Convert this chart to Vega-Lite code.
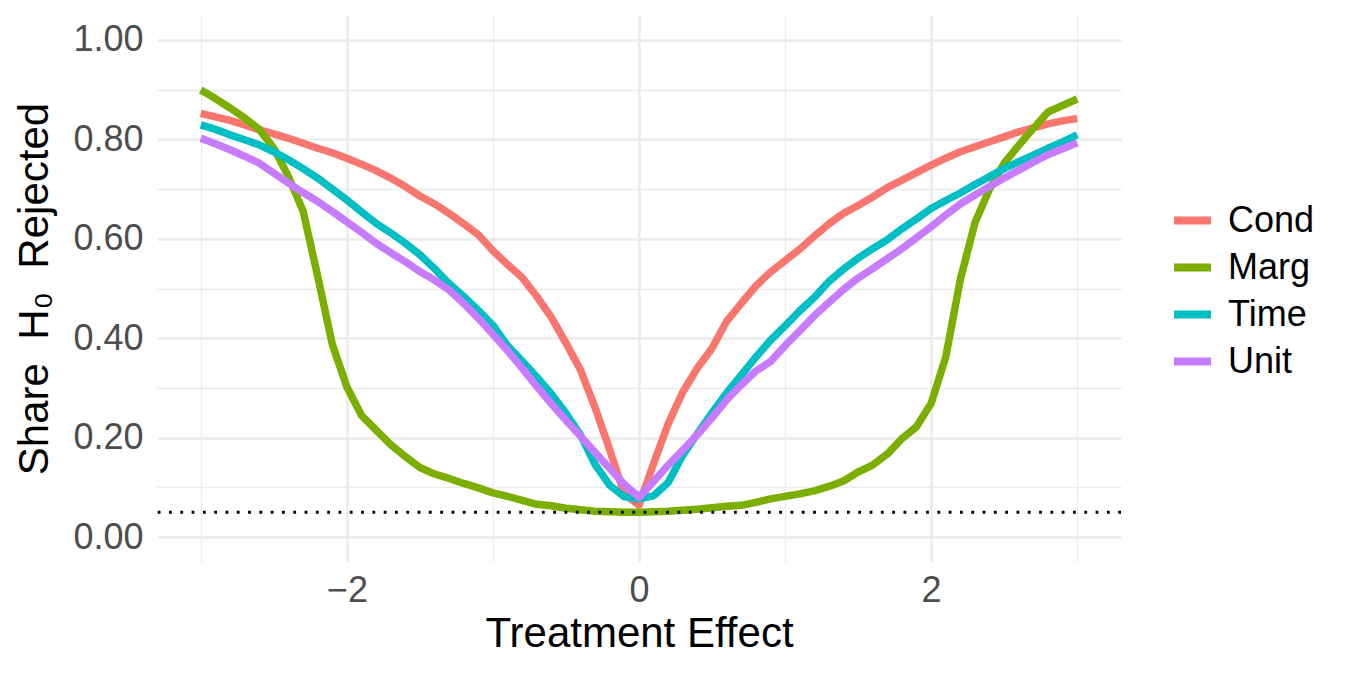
{
  "$schema": "https://vega.github.io/schema/vega-lite/v6.json",
  "width": 964,
  "height": 547,
  "autosize": {"type": "none"},
  "padding": {"left": 157, "top": 15, "right": 224, "bottom": 111},
  "background": "white",
  "config": {"view": {"stroke": null}, "font": "Liberation Sans"},
  "datasets": {
    "curves": [
      {"effect": -3.0, "share": 0.852, "method": "Cond"},
      {"effect": -2.9, "share": 0.845, "method": "Cond"},
      {"effect": -2.8, "share": 0.838, "method": "Cond"},
      {"effect": -2.7, "share": 0.829, "method": "Cond"},
      {"effect": -2.6, "share": 0.819, "method": "Cond"},
      {"effect": -2.5, "share": 0.811, "method": "Cond"},
      {"effect": -2.4, "share": 0.802, "method": "Cond"},
      {"effect": -2.3, "share": 0.792, "method": "Cond"},
      {"effect": -2.2, "share": 0.782, "method": "Cond"},
      {"effect": -2.1, "share": 0.773, "method": "Cond"},
      {"effect": -2.0, "share": 0.762, "method": "Cond"},
      {"effect": -1.9, "share": 0.750, "method": "Cond"},
      {"effect": -1.8, "share": 0.737, "method": "Cond"},
      {"effect": -1.7, "share": 0.722, "method": "Cond"},
      {"effect": -1.6, "share": 0.705, "method": "Cond"},
      {"effect": -1.5, "share": 0.686, "method": "Cond"},
      {"effect": -1.4, "share": 0.670, "method": "Cond"},
      {"effect": -1.3, "share": 0.651, "method": "Cond"},
      {"effect": -1.2, "share": 0.630, "method": "Cond"},
      {"effect": -1.1, "share": 0.608, "method": "Cond"},
      {"effect": -1.0, "share": 0.576, "method": "Cond"},
      {"effect": -0.9, "share": 0.548, "method": "Cond"},
      {"effect": -0.8, "share": 0.522, "method": "Cond"},
      {"effect": -0.7, "share": 0.484, "method": "Cond"},
      {"effect": -0.6, "share": 0.442, "method": "Cond"},
      {"effect": -0.5, "share": 0.390, "method": "Cond"},
      {"effect": -0.4, "share": 0.336, "method": "Cond"},
      {"effect": -0.3, "share": 0.260, "method": "Cond"},
      {"effect": -0.2, "share": 0.175, "method": "Cond"},
      {"effect": -0.1, "share": 0.086, "method": "Cond"},
      {"effect": 0.0, "share": 0.064, "method": "Cond"},
      {"effect": 0.1, "share": 0.148, "method": "Cond"},
      {"effect": 0.2, "share": 0.228, "method": "Cond"},
      {"effect": 0.3, "share": 0.292, "method": "Cond"},
      {"effect": 0.4, "share": 0.340, "method": "Cond"},
      {"effect": 0.5, "share": 0.380, "method": "Cond"},
      {"effect": 0.6, "share": 0.434, "method": "Cond"},
      {"effect": 0.7, "share": 0.470, "method": "Cond"},
      {"effect": 0.8, "share": 0.505, "method": "Cond"},
      {"effect": 0.9, "share": 0.533, "method": "Cond"},
      {"effect": 1.0, "share": 0.556, "method": "Cond"},
      {"effect": 1.1, "share": 0.579, "method": "Cond"},
      {"effect": 1.2, "share": 0.605, "method": "Cond"},
      {"effect": 1.3, "share": 0.630, "method": "Cond"},
      {"effect": 1.4, "share": 0.651, "method": "Cond"},
      {"effect": 1.5, "share": 0.667, "method": "Cond"},
      {"effect": 1.6, "share": 0.684, "method": "Cond"},
      {"effect": 1.7, "share": 0.703, "method": "Cond"},
      {"effect": 1.8, "share": 0.718, "method": "Cond"},
      {"effect": 1.9, "share": 0.733, "method": "Cond"},
      {"effect": 2.0, "share": 0.748, "method": "Cond"},
      {"effect": 2.1, "share": 0.762, "method": "Cond"},
      {"effect": 2.2, "share": 0.775, "method": "Cond"},
      {"effect": 2.3, "share": 0.785, "method": "Cond"},
      {"effect": 2.4, "share": 0.795, "method": "Cond"},
      {"effect": 2.5, "share": 0.805, "method": "Cond"},
      {"effect": 2.6, "share": 0.815, "method": "Cond"},
      {"effect": 2.7, "share": 0.823, "method": "Cond"},
      {"effect": 2.8, "share": 0.831, "method": "Cond"},
      {"effect": 2.9, "share": 0.837, "method": "Cond"},
      {"effect": 3.0, "share": 0.842, "method": "Cond"},
      {"effect": -3.0, "share": 0.899, "method": "Marg"},
      {"effect": -2.9, "share": 0.882, "method": "Marg"},
      {"effect": -2.8, "share": 0.863, "method": "Marg"},
      {"effect": -2.7, "share": 0.843, "method": "Marg"},
      {"effect": -2.6, "share": 0.820, "method": "Marg"},
      {"effect": -2.5, "share": 0.782, "method": "Marg"},
      {"effect": -2.4, "share": 0.725, "method": "Marg"},
      {"effect": -2.3, "share": 0.656, "method": "Marg"},
      {"effect": -2.2, "share": 0.525, "method": "Marg"},
      {"effect": -2.1, "share": 0.388, "method": "Marg"},
      {"effect": -2.0, "share": 0.302, "method": "Marg"},
      {"effect": -1.9, "share": 0.245, "method": "Marg"},
      {"effect": -1.8, "share": 0.215, "method": "Marg"},
      {"effect": -1.7, "share": 0.186, "method": "Marg"},
      {"effect": -1.6, "share": 0.162, "method": "Marg"},
      {"effect": -1.5, "share": 0.140, "method": "Marg"},
      {"effect": -1.4, "share": 0.127, "method": "Marg"},
      {"effect": -1.3, "share": 0.118, "method": "Marg"},
      {"effect": -1.2, "share": 0.108, "method": "Marg"},
      {"effect": -1.1, "share": 0.099, "method": "Marg"},
      {"effect": -1.0, "share": 0.089, "method": "Marg"},
      {"effect": -0.9, "share": 0.082, "method": "Marg"},
      {"effect": -0.8, "share": 0.074, "method": "Marg"},
      {"effect": -0.7, "share": 0.066, "method": "Marg"},
      {"effect": -0.6, "share": 0.063, "method": "Marg"},
      {"effect": -0.5, "share": 0.058, "method": "Marg"},
      {"effect": -0.4, "share": 0.055, "method": "Marg"},
      {"effect": -0.3, "share": 0.052, "method": "Marg"},
      {"effect": -0.2, "share": 0.051, "method": "Marg"},
      {"effect": -0.1, "share": 0.050, "method": "Marg"},
      {"effect": 0.0, "share": 0.050, "method": "Marg"},
      {"effect": 0.1, "share": 0.051, "method": "Marg"},
      {"effect": 0.2, "share": 0.052, "method": "Marg"},
      {"effect": 0.3, "share": 0.054, "method": "Marg"},
      {"effect": 0.4, "share": 0.056, "method": "Marg"},
      {"effect": 0.5, "share": 0.059, "method": "Marg"},
      {"effect": 0.6, "share": 0.062, "method": "Marg"},
      {"effect": 0.7, "share": 0.064, "method": "Marg"},
      {"effect": 0.8, "share": 0.070, "method": "Marg"},
      {"effect": 0.9, "share": 0.077, "method": "Marg"},
      {"effect": 1.0, "share": 0.082, "method": "Marg"},
      {"effect": 1.1, "share": 0.087, "method": "Marg"},
      {"effect": 1.2, "share": 0.093, "method": "Marg"},
      {"effect": 1.3, "share": 0.102, "method": "Marg"},
      {"effect": 1.4, "share": 0.113, "method": "Marg"},
      {"effect": 1.5, "share": 0.131, "method": "Marg"},
      {"effect": 1.6, "share": 0.145, "method": "Marg"},
      {"effect": 1.7, "share": 0.167, "method": "Marg"},
      {"effect": 1.8, "share": 0.198, "method": "Marg"},
      {"effect": 1.9, "share": 0.222, "method": "Marg"},
      {"effect": 2.0, "share": 0.269, "method": "Marg"},
      {"effect": 2.1, "share": 0.362, "method": "Marg"},
      {"effect": 2.2, "share": 0.518, "method": "Marg"},
      {"effect": 2.3, "share": 0.632, "method": "Marg"},
      {"effect": 2.4, "share": 0.700, "method": "Marg"},
      {"effect": 2.5, "share": 0.752, "method": "Marg"},
      {"effect": 2.6, "share": 0.788, "method": "Marg"},
      {"effect": 2.7, "share": 0.822, "method": "Marg"},
      {"effect": 2.8, "share": 0.855, "method": "Marg"},
      {"effect": 2.9, "share": 0.868, "method": "Marg"},
      {"effect": 3.0, "share": 0.881, "method": "Marg"},
      {"effect": -3.0, "share": 0.829, "method": "Time"},
      {"effect": -2.9, "share": 0.820, "method": "Time"},
      {"effect": -2.8, "share": 0.809, "method": "Time"},
      {"effect": -2.7, "share": 0.799, "method": "Time"},
      {"effect": -2.6, "share": 0.789, "method": "Time"},
      {"effect": -2.5, "share": 0.775, "method": "Time"},
      {"effect": -2.4, "share": 0.759, "method": "Time"},
      {"effect": -2.3, "share": 0.741, "method": "Time"},
      {"effect": -2.2, "share": 0.722, "method": "Time"},
      {"effect": -2.1, "share": 0.700, "method": "Time"},
      {"effect": -2.0, "share": 0.678, "method": "Time"},
      {"effect": -1.9, "share": 0.654, "method": "Time"},
      {"effect": -1.8, "share": 0.631, "method": "Time"},
      {"effect": -1.7, "share": 0.612, "method": "Time"},
      {"effect": -1.6, "share": 0.591, "method": "Time"},
      {"effect": -1.5, "share": 0.568, "method": "Time"},
      {"effect": -1.4, "share": 0.540, "method": "Time"},
      {"effect": -1.3, "share": 0.510, "method": "Time"},
      {"effect": -1.2, "share": 0.484, "method": "Time"},
      {"effect": -1.1, "share": 0.456, "method": "Time"},
      {"effect": -1.0, "share": 0.426, "method": "Time"},
      {"effect": -0.9, "share": 0.385, "method": "Time"},
      {"effect": -0.8, "share": 0.354, "method": "Time"},
      {"effect": -0.7, "share": 0.322, "method": "Time"},
      {"effect": -0.6, "share": 0.288, "method": "Time"},
      {"effect": -0.5, "share": 0.249, "method": "Time"},
      {"effect": -0.4, "share": 0.205, "method": "Time"},
      {"effect": -0.3, "share": 0.146, "method": "Time"},
      {"effect": -0.2, "share": 0.104, "method": "Time"},
      {"effect": -0.1, "share": 0.081, "method": "Time"},
      {"effect": 0.0, "share": 0.077, "method": "Time"},
      {"effect": 0.1, "share": 0.083, "method": "Time"},
      {"effect": 0.2, "share": 0.110, "method": "Time"},
      {"effect": 0.3, "share": 0.165, "method": "Time"},
      {"effect": 0.4, "share": 0.208, "method": "Time"},
      {"effect": 0.5, "share": 0.250, "method": "Time"},
      {"effect": 0.6, "share": 0.290, "method": "Time"},
      {"effect": 0.7, "share": 0.326, "method": "Time"},
      {"effect": 0.8, "share": 0.362, "method": "Time"},
      {"effect": 0.9, "share": 0.396, "method": "Time"},
      {"effect": 1.0, "share": 0.425, "method": "Time"},
      {"effect": 1.1, "share": 0.455, "method": "Time"},
      {"effect": 1.2, "share": 0.482, "method": "Time"},
      {"effect": 1.3, "share": 0.514, "method": "Time"},
      {"effect": 1.4, "share": 0.539, "method": "Time"},
      {"effect": 1.5, "share": 0.561, "method": "Time"},
      {"effect": 1.6, "share": 0.580, "method": "Time"},
      {"effect": 1.7, "share": 0.598, "method": "Time"},
      {"effect": 1.8, "share": 0.620, "method": "Time"},
      {"effect": 1.9, "share": 0.640, "method": "Time"},
      {"effect": 2.0, "share": 0.661, "method": "Time"},
      {"effect": 2.1, "share": 0.677, "method": "Time"},
      {"effect": 2.2, "share": 0.692, "method": "Time"},
      {"effect": 2.3, "share": 0.709, "method": "Time"},
      {"effect": 2.4, "share": 0.725, "method": "Time"},
      {"effect": 2.5, "share": 0.741, "method": "Time"},
      {"effect": 2.6, "share": 0.755, "method": "Time"},
      {"effect": 2.7, "share": 0.768, "method": "Time"},
      {"effect": 2.8, "share": 0.782, "method": "Time"},
      {"effect": 2.9, "share": 0.795, "method": "Time"},
      {"effect": 3.0, "share": 0.809, "method": "Time"},
      {"effect": -3.0, "share": 0.802, "method": "Unit"},
      {"effect": -2.9, "share": 0.791, "method": "Unit"},
      {"effect": -2.8, "share": 0.779, "method": "Unit"},
      {"effect": -2.7, "share": 0.766, "method": "Unit"},
      {"effect": -2.6, "share": 0.752, "method": "Unit"},
      {"effect": -2.5, "share": 0.732, "method": "Unit"},
      {"effect": -2.4, "share": 0.712, "method": "Unit"},
      {"effect": -2.3, "share": 0.693, "method": "Unit"},
      {"effect": -2.2, "share": 0.675, "method": "Unit"},
      {"effect": -2.1, "share": 0.655, "method": "Unit"},
      {"effect": -2.0, "share": 0.634, "method": "Unit"},
      {"effect": -1.9, "share": 0.613, "method": "Unit"},
      {"effect": -1.8, "share": 0.591, "method": "Unit"},
      {"effect": -1.7, "share": 0.572, "method": "Unit"},
      {"effect": -1.6, "share": 0.554, "method": "Unit"},
      {"effect": -1.5, "share": 0.534, "method": "Unit"},
      {"effect": -1.4, "share": 0.517, "method": "Unit"},
      {"effect": -1.3, "share": 0.497, "method": "Unit"},
      {"effect": -1.2, "share": 0.470, "method": "Unit"},
      {"effect": -1.1, "share": 0.440, "method": "Unit"},
      {"effect": -1.0, "share": 0.408, "method": "Unit"},
      {"effect": -0.9, "share": 0.375, "method": "Unit"},
      {"effect": -0.8, "share": 0.340, "method": "Unit"},
      {"effect": -0.7, "share": 0.303, "method": "Unit"},
      {"effect": -0.6, "share": 0.268, "method": "Unit"},
      {"effect": -0.5, "share": 0.235, "method": "Unit"},
      {"effect": -0.4, "share": 0.203, "method": "Unit"},
      {"effect": -0.3, "share": 0.170, "method": "Unit"},
      {"effect": -0.2, "share": 0.138, "method": "Unit"},
      {"effect": -0.1, "share": 0.106, "method": "Unit"},
      {"effect": 0.0, "share": 0.080, "method": "Unit"},
      {"effect": 0.1, "share": 0.112, "method": "Unit"},
      {"effect": 0.2, "share": 0.145, "method": "Unit"},
      {"effect": 0.3, "share": 0.175, "method": "Unit"},
      {"effect": 0.4, "share": 0.206, "method": "Unit"},
      {"effect": 0.5, "share": 0.240, "method": "Unit"},
      {"effect": 0.6, "share": 0.276, "method": "Unit"},
      {"effect": 0.7, "share": 0.306, "method": "Unit"},
      {"effect": 0.8, "share": 0.334, "method": "Unit"},
      {"effect": 0.9, "share": 0.353, "method": "Unit"},
      {"effect": 1.0, "share": 0.385, "method": "Unit"},
      {"effect": 1.1, "share": 0.415, "method": "Unit"},
      {"effect": 1.2, "share": 0.445, "method": "Unit"},
      {"effect": 1.3, "share": 0.472, "method": "Unit"},
      {"effect": 1.4, "share": 0.498, "method": "Unit"},
      {"effect": 1.5, "share": 0.521, "method": "Unit"},
      {"effect": 1.6, "share": 0.540, "method": "Unit"},
      {"effect": 1.7, "share": 0.560, "method": "Unit"},
      {"effect": 1.8, "share": 0.580, "method": "Unit"},
      {"effect": 1.9, "share": 0.602, "method": "Unit"},
      {"effect": 2.0, "share": 0.624, "method": "Unit"},
      {"effect": 2.1, "share": 0.648, "method": "Unit"},
      {"effect": 2.2, "share": 0.670, "method": "Unit"},
      {"effect": 2.3, "share": 0.688, "method": "Unit"},
      {"effect": 2.4, "share": 0.705, "method": "Unit"},
      {"effect": 2.5, "share": 0.722, "method": "Unit"},
      {"effect": 2.6, "share": 0.738, "method": "Unit"},
      {"effect": 2.7, "share": 0.754, "method": "Unit"},
      {"effect": 2.8, "share": 0.769, "method": "Unit"},
      {"effect": 2.9, "share": 0.781, "method": "Unit"},
      {"effect": 3.0, "share": 0.793, "method": "Unit"}
    ],
    "ref": [{"level": 0.05}]
  },
  "layer": [
    {
      "data": {"name": "curves"},
      "mark": {"type": "line", "strokeWidth": 7.5, "strokeCap": "butt", "strokeJoin": "round"},
      "encoding": {
        "x": {
          "field": "effect", "type": "quantitative",
          "scale": {"domain": [-3.3, 3.3], "nice": false, "zero": false},
          "axis": {
            "title": "Treatment Effect",
            "values": [-3, -2, -1, 0, 1, 2, 3],
            "labelExpr": "datum.value % 2 == 0 ? datum.label : ''",
            "domain": false, "ticks": false,
            "labelFontSize": 36, "labelColor": "#4D4D4D", "labelPadding": 11,
            "labelFont": "Liberation Sans", "labelOverlap": false, "labelFlush": false,
            "grid": true, "gridColor": "#EBEBEB",
            "gridWidth": {"condition": {"test": "datum.value % 2 == 0", "value": 2.6}, "value": 1.3},
            "titleFontSize": 42, "titleFontWeight": "normal", "titleColor": "black",
            "titleFont": "Liberation Sans", "titlePadding": 5
          }
        },
        "y": {
          "field": "share", "type": "quantitative",
          "scale": {"domain": [-0.05, 1.05], "nice": false, "zero": false},
          "axis": {
            "title": "Share\u00a0\u00a0H\u2080\u00a0\u00a0Rejected",
            "values": [0, 0.1, 0.2, 0.3, 0.4, 0.5, 0.6, 0.7, 0.8, 0.9, 1.0],
            "format": ".2f",
            "labelExpr": "round(datum.value * 10) % 2 == 0 ? datum.label : ''",
            "domain": false, "ticks": false,
            "labelFontSize": 36, "labelColor": "#4D4D4D", "labelPadding": 14,
            "labelFont": "Liberation Sans", "labelOverlap": false, "labelFlush": false,
            "grid": true, "gridColor": "#EBEBEB",
            "gridWidth": {"condition": {"test": "round(datum.value * 10) % 2 == 0", "value": 2.6}, "value": 1.3},
            "titleFontSize": 42, "titleFontWeight": "normal", "titleColor": "black",
            "titleFont": "Liberation Sans", "titlePadding": 16
          }
        },
        "color": {
          "field": "method", "type": "nominal",
          "scale": {"domain": ["Cond", "Marg", "Time", "Unit"], "range": ["#F8766D", "#7CAE00", "#00BFC4", "#C77CFF"]},
          "legend": {
            "title": null, "orient": "none", "legendX": 1013, "legendY": 183,
            "symbolType": "stroke", "symbolSize": 1369, "symbolStrokeWidth": 8,
            "labelFontSize": 36, "labelColor": "black", "labelFont": "Liberation Sans",
            "rowPadding": 6, "labelOffset": 13, "padding": 0
          }
        }
      }
    },
    {
      "data": {"name": "ref"},
      "mark": {"type": "rule", "color": "black", "strokeWidth": 2.8, "strokeDash": [2.8, 8.5]},
      "encoding": {"y": {"field": "level", "type": "quantitative"}}
    }
  ]
}
